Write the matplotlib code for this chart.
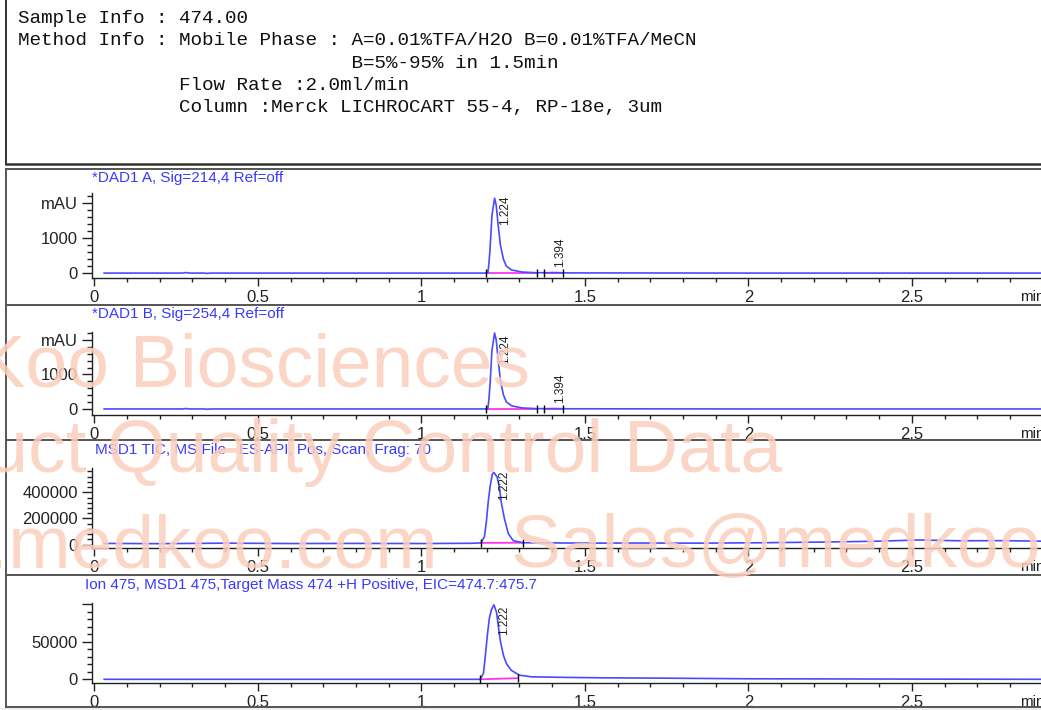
import matplotlib
matplotlib.use("Agg")
import matplotlib.pyplot as plt
from matplotlib.lines import Line2D
from matplotlib.patches import Rectangle
from matplotlib.ticker import MultipleLocator, FixedLocator

plt.rcParams['font.family'] = ['Liberation Sans', 'DejaVu Sans']

# ---- data ----
header_lines = [
    "Sample Info : 474.00",
    "Method Info : Mobile Phase : A=0.01%TFA/H2O B=0.01%TFA/MeCN",
    "                             B=5%-95% in 1.5min",
    "              Flow Rate :2.0ml/min",
    "              Column :Merck LICHROCART 55-4, RP-18e, 3um",
]

titles = ["*DAD1 A, Sig=214,4 Ref=off",
          "*DAD1 B, Sig=254,4 Ref=off",
          "MSD1 TIC, MS File   ES-API, Pos, Scan, Frag: 70",
          "Ion 475, MSD1 475,Target Mass 474 +H Positive, EIC=474.7:475.7"]

dad_t = [0.03, 0.27, 0.28, 0.29, 0.335, 0.345, 0.355, 0.5, 1.0, 1.19, 1.203,
         1.206, 1.210, 1.216, 1.224, 1.229, 1.235, 1.242, 1.251, 1.260, 1.276,
         1.307, 1.35, 1.39, 1.40, 1.45, 2.0, 2.5, 2.9]
dad_a = [0, 0, 15, 0, 0, -10, 0, 0, 0, 0, 0,
         200, 660, 1660, 2150, 1950, 1380, 800, 400, 200, 90,
         30, 10, 10, 15, 5, 0, 0, 0]
dad_b = [0, 0, 12, 0, 0, -8, 0, 0, 0, 0, 0,
         210, 680, 1700, 2200, 2000, 1420, 820, 410, 205, 92,
         30, 10, 8, 12, 5, 0, 0, 0]

tic_t = [0.03, 0.2, 0.4, 0.6, 0.8, 1.0, 1.15, 1.182, 1.193, 1.199, 1.205,
         1.211, 1.217, 1.222, 1.232, 1.239, 1.245, 1.254, 1.266, 1.281, 1.311,
         1.4, 1.5, 1.67, 1.85, 2.04, 2.22, 2.40, 2.52, 2.65, 2.77, 2.9]
tic_y = [10000, 8000, 12000, 9000, 10000, 9000, 11000, 14000, 61000, 177000, 338000,
         454000, 538000, 551000, 515000, 431000, 315000, 200000, 85000, 31000, 15000,
         14000, 12000, 13000, 12000, 15000, 20000, 27000, 36000, 30000, 31000, 27000]

eic_t = [0.03, 0.5, 1.0, 1.17, 1.180, 1.190, 1.196, 1.202, 1.208, 1.214, 1.222,
         1.230, 1.236, 1.242, 1.251, 1.260, 1.275, 1.300, 1.337, 1.45, 1.55,
         1.75, 2.0, 2.5, 2.9]
eic_y = [0, 0, 0, 0, 0, 8000, 32000, 59000, 81000, 92000, 99000,
         89000, 69000, 50000, 32000, 21000, 12000, 5500, 3300, 2500, 2000,
         1500, 700, 300, 0]

# peak labels (retention time, apex height)
dad_a_peaks = [(1.224, 2150), (1.394, 15)]
dad_b_peaks = [(1.224, 2200), (1.394, 12)]
tic_peaks = [(1.222, 551000)]
eic_peaks = [(1.222, 99000)]

# integration baselines: (start, end, y start, y end)
dad_a_base = [(1.198, 1.353, 0, 0), (1.375, 1.434, 0, 0)]
dad_b_base = [(1.198, 1.353, 0, 0), (1.375, 1.434, 0, 0)]
tic_base = [(1.182, 1.311, 14000, 15000)]
eic_base = [(1.180, 1.296, 0, 1500)]

ylims = [(-150, 2300), (-175, 2230), (-25000, 585000), (-5300, 101000)]
ymajor = [[0, 1000, 2000], [0, 1000, 2000], [0, 200000, 400000], [0, 50000, 100000]]
ylabels = [['0', '1000', 'mAU'], ['0', '1000', 'mAU'],
           ['0', '200000', '400000'], ['0', '50000', '']]
yminor = [200, 200, 40000, 10000]

panels = [(dad_t, dad_a, dad_a_peaks, dad_a_base),
          (dad_t, dad_b, dad_b_peaks, dad_b_base),
          (tic_t, tic_y, tic_peaks, tic_base),
          (eic_t, eic_y, eic_peaks, eic_base)]

W, H = 1041, 710
fig = plt.figure(figsize=(W / 100, H / 100), dpi=100)

def fy(py):
    return 1 - py / H

# header box
for i, line in enumerate(header_lines):
    fig.text(18 / W, fy(23 + 22.3 * i), line, family='Liberation Mono',
             fontsize=13.9, color='#111111', va='baseline', ha='left')

def hline(py, lw=1.4, c='#555555'):
    fig.add_artist(Line2D([6 / W, 1], [fy(py), fy(py)], transform=fig.transFigure,
                          color=c, lw=lw))

hline(164, 1.8, '#333333')
for py in [169, 305, 440, 575, 707]:
    hline(py)
fig.add_artist(Line2D([6 / W, 6 / W], [fy(0), fy(164)], transform=fig.transFigure,
                      color='#333333', lw=1.4))
fig.add_artist(Line2D([6 / W, 6 / W], [fy(169), fy(707)], transform=fig.transFigure,
                      color='#555555', lw=1.4))
fig.add_artist(Rectangle((0, 0), 1, fy(708), transform=fig.transFigure,
                         color='#eeeeee', lw=0))

# axes boxes in pixels: (top, bottom)
boxes = [(193, 278.3), (332, 415), (468, 548), (603.3, 683.3)]
title_y = [178, 314, 450, 585]
title_x = [92, 92, 95, 85]
left = 91.7

for k, (t, y, peaks, base) in enumerate(panels):
    top, bot = boxes[k]
    ax = fig.add_axes([left / W, fy(bot), 1 - left / W, (bot - top) / H])
    ax.plot(t, y, color='#4a4aff', lw=1.2, zorder=3)
    for (t0, t1, y0, y1) in base:
        ax.plot([t0, t1], [y0, y1], color='#ff33ee', lw=1.3, zorder=2)
        ax.plot([t0, t1], [y0, y1], ls='none', marker='|', ms=6, mew=1.0,
                color='black', zorder=4)
    ax.set_xlim(-0.008, 2.895)
    ax.set_ylim(*ylims[k])
    ytop = ylims[k][1]
    for (pt, ph) in peaks:
        if ph > 0.5 * ytop:
            ax.annotate(f"{pt:.3f}", (pt, ytop), xytext=(3, -2),
                        textcoords='offset points', rotation=90, fontsize=8.5,
                        ha='left', va='top', color='#222222')
        else:
            ax.annotate(f"{pt:.3f}", (pt, ph), xytext=(3, 4),
                        textcoords='offset points', rotation=90, fontsize=8.5,
                        ha='left', va='bottom', color='#222222')
    for s in ['top', 'right']:
        ax.spines[s].set_visible(False)
    for s in ['left', 'bottom']:
        ax.spines[s].set_color('#222222')
        ax.spines[s].set_linewidth(1.0)
    ax.xaxis.set_major_locator(FixedLocator([0, 0.5, 1, 1.5, 2, 2.5]))
    ax.set_xticklabels(['0', '0.5', '1', '1.5', '2', '2.5'])
    ax.xaxis.set_minor_locator(MultipleLocator(0.1))
    ax.yaxis.set_major_locator(FixedLocator(ymajor[k]))
    ax.set_yticklabels(ylabels[k])
    ax.yaxis.set_minor_locator(MultipleLocator(yminor[k]))
    ax.tick_params(axis='x', which='major', direction='out', length=6, width=1,
                   labelsize=12, pad=2.5, colors='#222222')
    ax.tick_params(axis='x', which='minor', direction='out', length=3, width=1,
                   colors='#222222')
    ax.tick_params(axis='y', which='major', direction='out', length=7, width=1,
                   labelsize=12, pad=3, colors='#222222')
    ax.tick_params(axis='y', which='minor', direction='out', length=3.5, width=1,
                   colors='#222222')
    ax.patch.set_alpha(0)
    fig.text(title_x[k] / W, fy(title_y[k]), titles[k], color='#3a3aff',
             fontsize=11, va='center', ha='left')
    fig.text(1020 / W, fy(bot + 19), "min", color='#222222', fontsize=11,
             va='center', ha='left')

# watermark
wm = dict(fontsize=54, color='#fbcfbd', alpha=0.85, va='baseline', zorder=20,
          family='Liberation Sans')
fig.text(530 / W, fy(386), "MedKoo Biosciences", ha='right', **wm)
fig.text(782 / W, fy(472), "Product Quality Control Data", ha='right', **wm)
fig.text(438 / W, fy(567), "www.medkoo.com", ha='right', **wm)
fig.text(511 / W, fy(567), "Sales@medkoo.com", ha='left', **wm)

fig.savefig("out.png", dpi=100)
